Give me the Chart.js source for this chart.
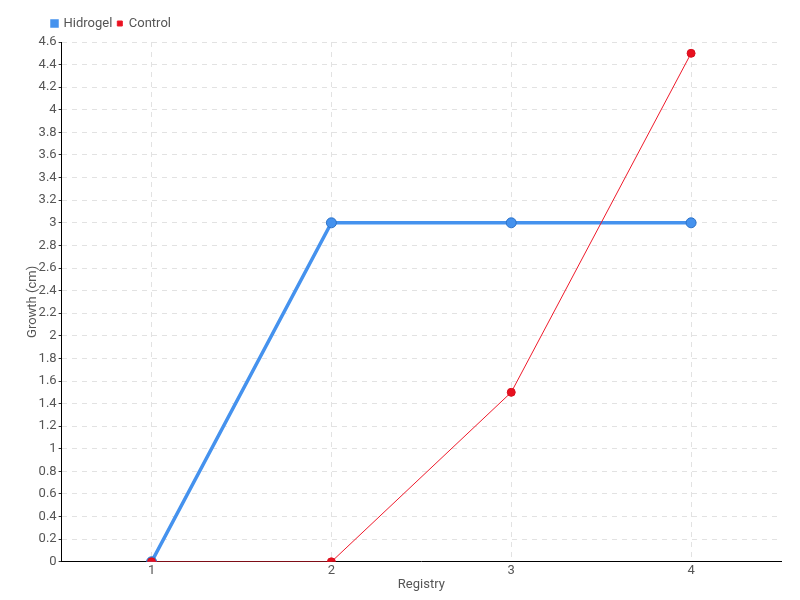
<!DOCTYPE html>
<html>
<head>
<meta charset="utf-8">
<script src="https://cdn.jsdelivr.net/npm/chart.js@4"></script>
<style>
  body { margin: 0; background: #fff; }
  #wrap { width: 800px; height: 600px; }
</style>
</head>
<body>
<div id="wrap"><canvas id="growth"></canvas></div>
<script>
const registry = ["1", "2", "3", "4"];
const hidrogelGrowth = [0, 3, 3, 3];
const controlGrowth = [0, 0, 1.5, 4.5];

const FONT = "Roboto, 'Noto Sans', sans-serif";
const textColor = "#555";

const ctx = document.getElementById("growth").getContext("2d");

// legend: a little extra room below, and nudged right over the plot
const legendShift = {
  id: "legendShift",
  beforeInit(chart) {
    const fit = chart.legend.fit;
    chart.legend.fit = function () {
      fit.call(this);
      this.height += 2;
    };
  },
  afterLayout(chart) {
    chart.legend.left += 34;
  },
};

new Chart(ctx, {
  type: "line",
  data: {
    labels: registry,
    datasets: [
      {
        label: "Hidrogel",
        data: hidrogelGrowth,
        borderColor: "#4592ee",
        backgroundColor: "#4592ee",
        pointBackgroundColor: "#4592ee",
        pointBorderColor: "#2d72c8",
        pointBorderWidth: 1,
        pointRadius: 5,
        borderWidth: 3.5,
        tension: 0,
        order: 1,
      },
      {
        label: "Control",
        data: controlGrowth,
        borderColor: "#ef1a2b",
        backgroundColor: "#e8101f",
        pointBackgroundColor: "#e8101f",
        pointBorderColor: "#d8101f",
        pointRadius: 4,
        borderWidth: 1,
        tension: 0,
        order: 0,
      },
    ],
  },
  plugins: [legendShift],
  options: {
    responsive: true,
    maintainAspectRatio: false,
    animation: false,
    layout: { padding: { top: 12, right: 19, left: 13, bottom: 7 } },
    plugins: {
      legend: {
        position: "top",
        align: "start",
        labels: {
          boxWidth: 5,
          boxHeight: 5,
          padding: 5,
          color: textColor,
          font: { family: FONT, size: 13 },
          sort: (a, b) => a.datasetIndex - b.datasetIndex,
        },
      },
      tooltip: { enabled: false },
    },
    scales: {
      x: {
        offset: true,
        grid: {
          offset: false,
          color: "#e2e2e2",
          tickLength: 0,
        },
        border: { color: "#000", dash: [5, 5] },
        ticks: { color: textColor, padding: 1, font: { family: FONT, size: 13 } },
        title: {
          display: true,
          text: "Registry",
          color: textColor,
          padding: { top: -2, bottom: 0 },
          font: { family: FONT, size: 13 },
        },
      },
      y: {
        min: 0,
        max: 4.6,
        grid: {
          color: "#e2e2e2",
          tickLength: 3,
          tickColor: "#333",
          tickBorderDash: [],
        },
        border: { color: "#000", dash: [5, 5] },
        ticks: {
          stepSize: 0.2,
          autoSkip: false,
          color: textColor,
          padding: 2,
          font: { family: FONT, size: 13 },
          callback: (v) => Math.round(v * 10) / 10,
        },
        title: {
          display: true,
          text: "Growth (cm)",
          color: textColor,
          padding: { top: 12, bottom: -4 },
          font: { family: FONT, size: 13 },
        },
      },
    },
  },
});
</script>
</body>
</html>
